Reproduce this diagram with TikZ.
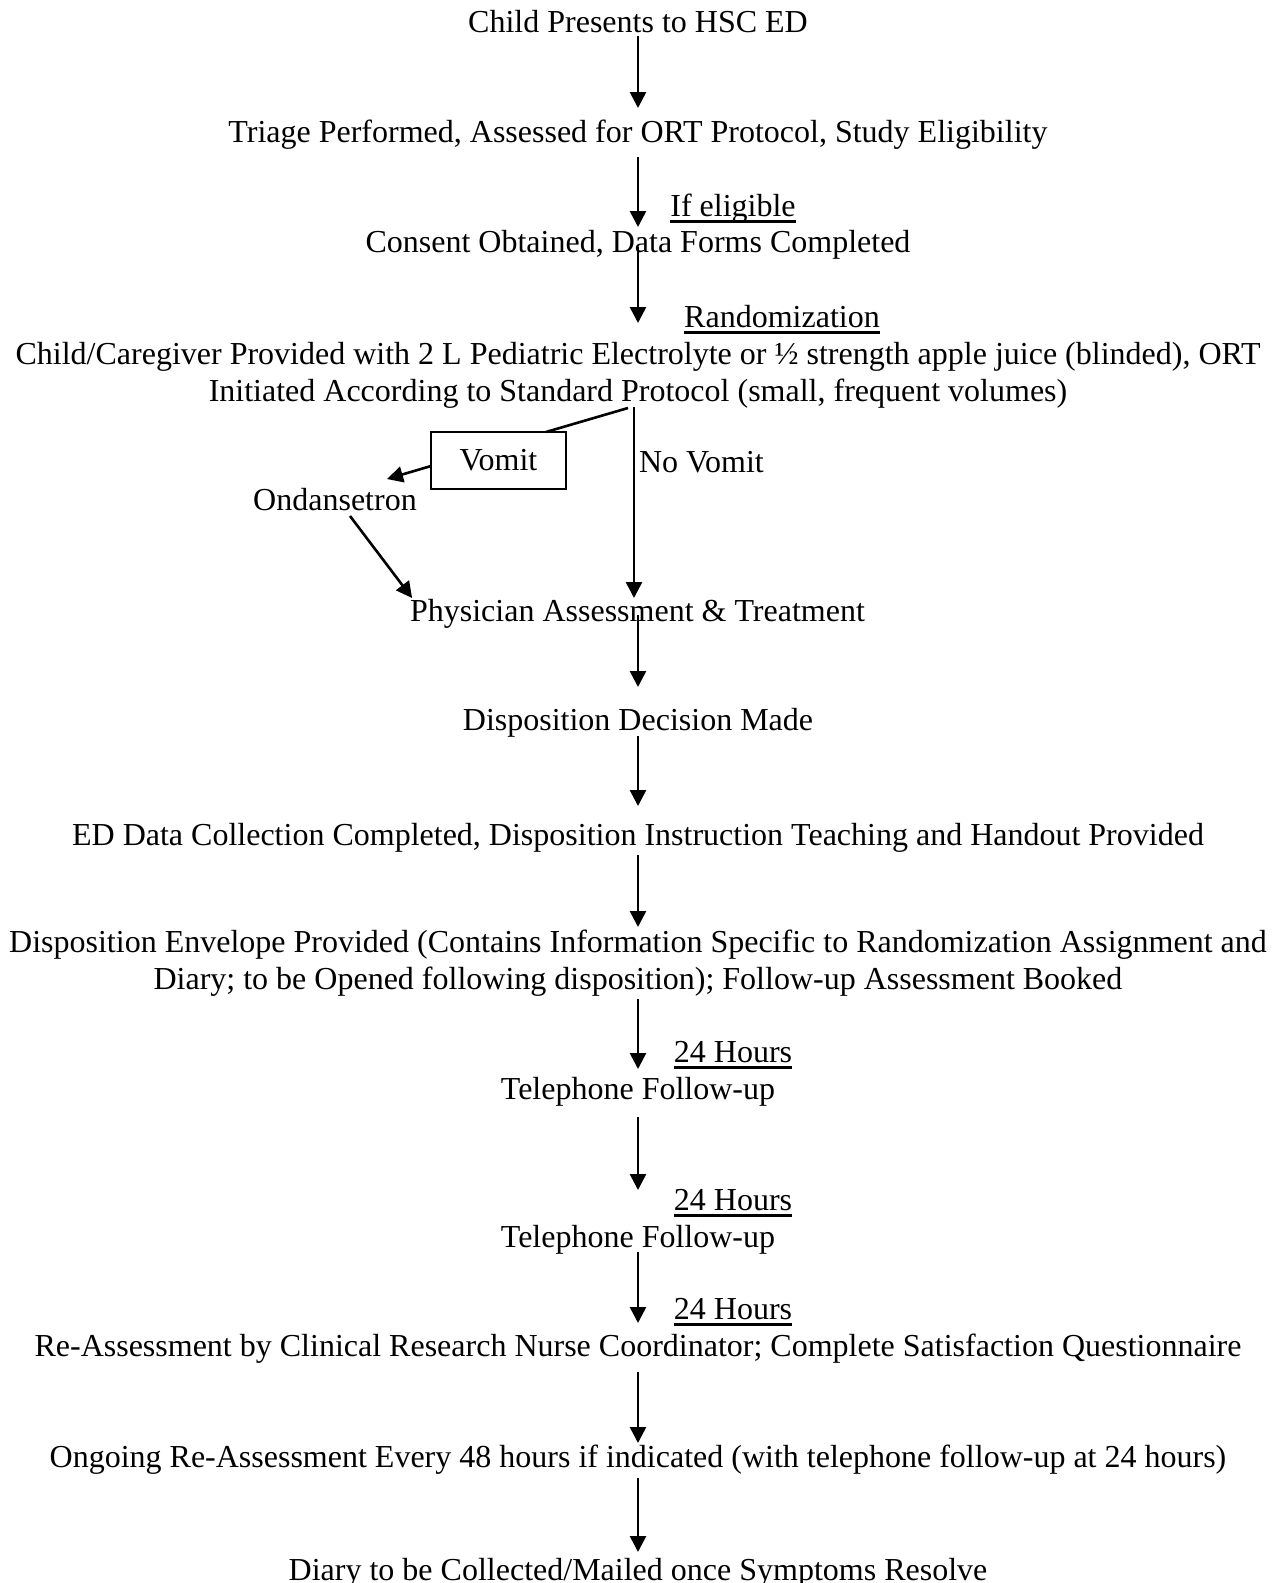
\documentclass[tikz,border=0pt]{standalone}
\usepackage{fontspec}
\setmainfont{Liberation Serif}
\usetikzlibrary{arrows.meta,calc}
\newcommand\myul[1]{\setbox0\hbox{#1}\rlap{\rule[-6.5pt]{\wd0}{2.5pt}}\box0}
\tikzset{
  every node/.style={font=\fontsize{32}{37}\selectfont, inner sep=0pt, outer sep=0pt},
  txt/.style={anchor=base},
  arr/.style={-{Triangle[width=16pt,length=16pt]}, line width=2.6pt},
  plain/.style={line width=2.6pt},
  boxed/.style={draw, line width=2pt, minimum width=135pt, minimum height=57pt}
}
\begin{document}
\begin{tikzpicture}[x=1pt,y=-1pt]
\useasboundingbox (0,0) rectangle (1280,1583);
\coordinate (colx) at (638,0);

\node[txt] (n1) at (638,32) {Child Presents to HSC ED};
\node[txt] (n2) at (638,142) {Triage Performed, Assessed for ORT Protocol, Study Eligibility};
\node[txt] (l1) at (733,216) {\myul{If eligible}};
\node[txt] (n3) at (638,252) {Consent Obtained, Data Forms Completed};
\node[txt] (l2) at (782,327) {\myul{Randomization}};
\node[txt,align=center] (n4) at (638,401) {Child/Caregiver Provided with 2 L Pediatric Electrolyte or ½ strength apple juice (blinded), ORT\\Initiated According to Standard Protocol (small, frequent volumes)};
\node[boxed] (vomit) at (498.5,460.5) {Vomit};
\node[txt,anchor=base west] (nv) at (639,472) {No Vomit};
\node[txt] (ond) at (335,510) {Ondansetron};
\node[txt] (phys) at (637.5,621) {Physician Assessment \& Treatment};
\node[txt] (n6) at (638,730) {Disposition Decision Made};
\node[txt] (n7) at (638,845) {ED Data Collection Completed, Disposition Instruction Teaching and Handout Provided};
\node[txt,align=center] (n8) at (638,989) {Disposition Envelope Provided (Contains Information Specific to Randomization Assignment and\\Diary; to be Opened following disposition); Follow-up Assessment Booked};
\node[txt] (l3) at (733,1062) {\myul{24 Hours}};
\node[txt] (n9) at (638,1099) {Telephone Follow-up};
\node[txt] (l4) at (733,1210) {\myul{24 Hours}};
\node[txt] (n10) at (638,1247) {Telephone Follow-up};
\node[txt] (l5) at (733,1319) {\myul{24 Hours}};
\node[txt] (n11) at (638,1356) {Re-Assessment by Clinical Research Nurse Coordinator; Complete Satisfaction Questionnaire};
\node[txt] (n12) at (638,1467) {Ongoing Re-Assessment Every 48 hours if indicated (with telephone follow-up at 24 hours)};
\node[txt] (n13) at (638,1580) {Diary to be Collected/Mailed once Symptoms Resolve};

% main column arrows
\draw[arr] ($(n1.base -| colx)+(0,4)$) -- ($(n2.base -| colx)+(0,-34)$);
\draw[arr] ($(n2.base -| colx)+(0,15)$) -- ($(n3.base -| colx)+(0,-25)$);
\draw[arr] ($(n3.base -| colx)+(0,-5)$) -- ($(n4.base -| colx)+(0,-78)$);

% branch
\coordinate (forkL) at (628,408);
\coordinate (forkR) at (634,407);
\draw[plain] (forkL) -- ($(vomit.north east)+(-20,0)$);
\draw[arr] (forkR) -- ($(phys.base -| forkR)+(0,-23)$);
\draw[arr] ($(vomit.west)+(0,5.5)$) -- ($(ond.base)+(52,-31)$);
\draw[arr] ($(ond.base)+(15,6)$) -- ($(phys.base west)+(2,-23)$);

\draw[arr] ($(phys.base -| colx)+(0,-6)$) -- ($(n6.base -| colx)+(0,-43)$);
\draw[arr] ($(n6.base -| colx)+(0,6)$) -- ($(n7.base -| colx)+(0,-39)$);
\draw[arr] ($(n7.base -| colx)+(0,10)$) -- ($(n8.base -| colx)+(0,-62)$);
\draw[arr] ($(n8.base -| colx)+(0,10)$) -- ($(n9.base -| colx)+(0,-30)$);
\draw[arr] ($(n9.base -| colx)+(0,18)$) -- ($(n10.base -| colx)+(0,-57)$);
\draw[arr] ($(n10.base -| colx)+(0,5)$) -- ($(n11.base -| colx)+(0,-33)$);
\draw[arr] ($(n11.base -| colx)+(0,16)$) -- ($(n12.base -| colx)+(0,-24)$);
\draw[arr] ($(n12.base -| colx)+(0,11)$) -- ($(n13.base -| colx)+(0,-28)$);
\end{tikzpicture}
\end{document}
